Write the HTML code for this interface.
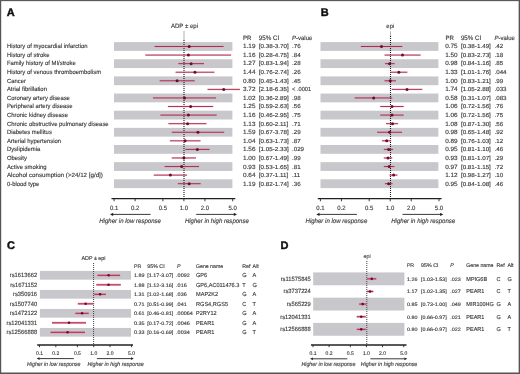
<!DOCTYPE html>
<html><head><meta charset="utf-8"><style>
html,body{margin:0;padding:0;background:#fff;}
body{width:520px;height:374px;overflow:hidden;position:relative;}
svg{position:absolute;left:0;top:0;font-family:"Liberation Sans",sans-serif;text-rendering:geometricPrecision;will-change:transform;filter:blur(0.35px);}
text{stroke:#444;stroke-width:0.13px;}
</style></head><body>
<svg width="520" height="374" viewBox="0 0 520 374">
<rect width="520" height="374" fill="#fff"/>
<text x="6.70" y="16.00" font-size="11" text-anchor="start" fill="#111" font-weight="bold" style="stroke:#111;stroke-width:0.45px">A</text>
<text transform="translate(184.50 27.50) scale(0.9615 1)" x="0" y="0" font-size="6.292" text-anchor="middle" fill="#333" font-weight="normal">ADP ± epi</text>
<rect x="114.00" y="42.10" width="118.40" height="8.80" fill="#c8c7cc"/>
<rect x="114.00" y="59.25" width="118.40" height="8.80" fill="#c8c7cc"/>
<rect x="114.00" y="76.40" width="118.40" height="8.80" fill="#c8c7cc"/>
<rect x="114.00" y="93.55" width="118.40" height="8.80" fill="#c8c7cc"/>
<rect x="114.00" y="110.70" width="118.40" height="8.80" fill="#c8c7cc"/>
<rect x="114.00" y="127.85" width="118.40" height="8.80" fill="#c8c7cc"/>
<rect x="114.00" y="145.00" width="118.40" height="8.80" fill="#c8c7cc"/>
<rect x="114.00" y="162.15" width="118.40" height="8.80" fill="#c8c7cc"/>
<rect x="114.00" y="179.30" width="118.40" height="8.80" fill="#c8c7cc"/>
<line x1="184.00" y1="31.00" x2="184.00" y2="40.00" stroke="#b4b4b4" stroke-width="1.1"/>
<line x1="184.00" y1="40.00" x2="184.00" y2="198.65" stroke="#1a1a1a" stroke-width="1.1" stroke-dasharray="1 1"/>
<line x1="154.57" y1="46.50" x2="223.56" y2="46.50" stroke="#e9879f" stroke-width="2.0" opacity="0.3"/>
<line x1="154.57" y1="46.50" x2="223.56" y2="46.50" stroke="#a51f43" stroke-width="0.9"/>
<circle cx="189.17" cy="46.50" r="1.5" fill="#6e0b2b"/>
<line x1="145.31" y1="55.08" x2="231.13" y2="55.08" stroke="#e9879f" stroke-width="2.0" opacity="0.3"/>
<line x1="145.31" y1="55.08" x2="231.13" y2="55.08" stroke="#a51f43" stroke-width="0.9"/>
<circle cx="188.40" cy="55.08" r="1.5" fill="#6e0b2b"/>
<line x1="178.25" y1="63.65" x2="203.99" y2="63.65" stroke="#e9879f" stroke-width="2.0" opacity="0.3"/>
<line x1="178.25" y1="63.65" x2="203.99" y2="63.65" stroke="#a51f43" stroke-width="0.9"/>
<circle cx="191.15" cy="63.65" r="1.5" fill="#6e0b2b"/>
<line x1="175.58" y1="72.22" x2="214.45" y2="72.22" stroke="#e9879f" stroke-width="2.0" opacity="0.3"/>
<line x1="175.58" y1="72.22" x2="214.45" y2="72.22" stroke="#a51f43" stroke-width="0.9"/>
<circle cx="194.95" cy="72.22" r="1.5" fill="#6e0b2b"/>
<line x1="159.69" y1="80.80" x2="194.74" y2="80.80" stroke="#e9879f" stroke-width="2.0" opacity="0.3"/>
<line x1="159.69" y1="80.80" x2="194.74" y2="80.80" stroke="#a51f43" stroke-width="0.9"/>
<circle cx="177.14" cy="80.80" r="1.5" fill="#6e0b2b"/>
<line x1="207.52" y1="89.38" x2="239.93" y2="89.38" stroke="#e9879f" stroke-width="2.0" opacity="0.3"/>
<line x1="207.52" y1="89.38" x2="239.93" y2="89.38" stroke="#a51f43" stroke-width="0.9"/>
<circle cx="223.72" cy="89.38" r="1.5" fill="#6e0b2b"/>
<line x1="152.93" y1="97.95" x2="216.07" y2="97.95" stroke="#e9879f" stroke-width="2.0" opacity="0.3"/>
<line x1="152.93" y1="97.95" x2="216.07" y2="97.95" stroke="#a51f43" stroke-width="0.9"/>
<circle cx="184.50" cy="97.95" r="1.5" fill="#6e0b2b"/>
<line x1="167.91" y1="106.52" x2="213.21" y2="106.52" stroke="#e9879f" stroke-width="2.0" opacity="0.3"/>
<line x1="167.91" y1="106.52" x2="213.21" y2="106.52" stroke="#a51f43" stroke-width="0.9"/>
<circle cx="190.66" cy="106.52" r="1.5" fill="#6e0b2b"/>
<line x1="160.36" y1="115.10" x2="216.69" y2="115.10" stroke="#e9879f" stroke-width="2.0" opacity="0.3"/>
<line x1="160.36" y1="115.10" x2="216.69" y2="115.10" stroke="#a51f43" stroke-width="0.9"/>
<circle cx="188.40" cy="115.10" r="1.5" fill="#6e0b2b"/>
<line x1="168.41" y1="123.67" x2="206.53" y2="123.67" stroke="#e9879f" stroke-width="2.0" opacity="0.3"/>
<line x1="168.41" y1="123.67" x2="206.53" y2="123.67" stroke="#a51f43" stroke-width="0.9"/>
<circle cx="187.60" cy="123.67" r="1.5" fill="#6e0b2b"/>
<line x1="171.76" y1="132.25" x2="224.21" y2="132.25" stroke="#e9879f" stroke-width="2.0" opacity="0.3"/>
<line x1="171.76" y1="132.25" x2="224.21" y2="132.25" stroke="#a51f43" stroke-width="0.9"/>
<circle cx="197.96" cy="132.25" r="1.5" fill="#6e0b2b"/>
<line x1="169.89" y1="140.82" x2="200.52" y2="140.82" stroke="#e9879f" stroke-width="2.0" opacity="0.3"/>
<line x1="169.89" y1="140.82" x2="200.52" y2="140.82" stroke="#a51f43" stroke-width="0.9"/>
<circle cx="185.09" cy="140.82" r="1.5" fill="#6e0b2b"/>
<line x1="185.38" y1="149.40" x2="209.54" y2="149.40" stroke="#e9879f" stroke-width="2.0" opacity="0.3"/>
<line x1="185.38" y1="149.40" x2="209.54" y2="149.40" stroke="#a51f43" stroke-width="0.9"/>
<circle cx="197.38" cy="149.40" r="1.5" fill="#6e0b2b"/>
<line x1="171.76" y1="157.97" x2="195.99" y2="157.97" stroke="#e9879f" stroke-width="2.0" opacity="0.3"/>
<line x1="171.76" y1="157.97" x2="195.99" y2="157.97" stroke="#a51f43" stroke-width="0.9"/>
<circle cx="183.90" cy="157.97" r="1.5" fill="#6e0b2b"/>
<line x1="164.65" y1="166.55" x2="199.08" y2="166.55" stroke="#e9879f" stroke-width="2.0" opacity="0.3"/>
<line x1="164.65" y1="166.55" x2="199.08" y2="166.55" stroke="#a51f43" stroke-width="0.9"/>
<circle cx="181.70" cy="166.55" r="1.5" fill="#6e0b2b"/>
<line x1="153.76" y1="175.12" x2="187.06" y2="175.12" stroke="#e9879f" stroke-width="2.0" opacity="0.3"/>
<line x1="153.76" y1="175.12" x2="187.06" y2="175.12" stroke="#a51f43" stroke-width="0.9"/>
<circle cx="170.37" cy="175.12" r="1.5" fill="#6e0b2b"/>
<line x1="177.88" y1="183.70" x2="200.69" y2="183.70" stroke="#e9879f" stroke-width="2.0" opacity="0.3"/>
<line x1="177.88" y1="183.70" x2="200.69" y2="183.70" stroke="#a51f43" stroke-width="0.9"/>
<circle cx="189.17" cy="183.70" r="1.5" fill="#6e0b2b"/>
<line x1="111.50" y1="198.65" x2="235.30" y2="198.65" stroke="#222" stroke-width="1.3"/>
<line x1="114.10" y1="198.65" x2="114.10" y2="201.25" stroke="#222" stroke-width="0.9"/>
<text transform="translate(114.10 209.70) scale(0.9615 1)" x="0" y="0" font-size="6.240" text-anchor="middle" fill="#333" font-weight="normal">0.1</text>
<line x1="135.11" y1="198.65" x2="135.11" y2="201.25" stroke="#222" stroke-width="0.9"/>
<text transform="translate(135.11 209.70) scale(0.9615 1)" x="0" y="0" font-size="6.240" text-anchor="middle" fill="#333" font-weight="normal">0.2</text>
<line x1="162.89" y1="198.65" x2="162.89" y2="201.25" stroke="#222" stroke-width="0.9"/>
<text transform="translate(162.89 209.70) scale(0.9615 1)" x="0" y="0" font-size="6.240" text-anchor="middle" fill="#333" font-weight="normal">0.5</text>
<line x1="183.90" y1="198.65" x2="183.90" y2="201.25" stroke="#222" stroke-width="0.9"/>
<text transform="translate(183.90 209.70) scale(0.9615 1)" x="0" y="0" font-size="6.240" text-anchor="middle" fill="#333" font-weight="normal">1.0</text>
<line x1="204.91" y1="198.65" x2="204.91" y2="201.25" stroke="#222" stroke-width="0.9"/>
<text transform="translate(204.91 209.70) scale(0.9615 1)" x="0" y="0" font-size="6.240" text-anchor="middle" fill="#333" font-weight="normal">2.0</text>
<line x1="232.69" y1="198.65" x2="232.69" y2="201.25" stroke="#222" stroke-width="0.9"/>
<text transform="translate(232.69 209.70) scale(0.9615 1)" x="0" y="0" font-size="6.240" text-anchor="middle" fill="#333" font-weight="normal">5.0</text>
<line x1="112.70" y1="214.40" x2="150.60" y2="214.40" stroke="#222" stroke-width="0.9"/>
<path d="M110.00 214.40 L113.20 212.80 L113.20 216.00Z" fill="#222"/>
<line x1="196.20" y1="214.40" x2="234.30" y2="214.40" stroke="#222" stroke-width="0.9"/>
<path d="M237.00 214.40 L233.80 212.80 L233.80 216.00Z" fill="#222"/>
<text transform="translate(99.20 222.50) scale(0.9615 1)" x="0" y="0" font-size="6.552" text-anchor="start" fill="#333" font-weight="normal" font-style="italic" textLength="64.27" lengthAdjust="spacingAndGlyphs">Higher in low response</text>
<text transform="translate(184.90 222.50) scale(0.9615 1)" x="0" y="0" font-size="6.552" text-anchor="start" fill="#333" font-weight="normal" font-style="italic" textLength="66.56" lengthAdjust="spacingAndGlyphs">Higher in high response</text>
<text transform="translate(6.90 48.10) scale(0.9615 1)" x="0" y="0" font-size="6.157" text-anchor="start" fill="#333" font-weight="normal">History of myocardial infarction</text>
<text transform="translate(6.90 56.70) scale(0.9615 1)" x="0" y="0" font-size="6.157" text-anchor="start" fill="#333" font-weight="normal">History of stroke</text>
<text transform="translate(6.90 65.30) scale(0.9615 1)" x="0" y="0" font-size="6.157" text-anchor="start" fill="#333" font-weight="normal">Family history of MI/stroke</text>
<text transform="translate(6.90 73.90) scale(0.9615 1)" x="0" y="0" font-size="6.157" text-anchor="start" fill="#333" font-weight="normal">History of venous thromboembolism</text>
<text transform="translate(6.90 82.50) scale(0.9615 1)" x="0" y="0" font-size="6.157" text-anchor="start" fill="#333" font-weight="normal">Cancer</text>
<text transform="translate(6.90 91.10) scale(0.9615 1)" x="0" y="0" font-size="6.157" text-anchor="start" fill="#333" font-weight="normal">Atrial fibrillation</text>
<text transform="translate(6.90 99.70) scale(0.9615 1)" x="0" y="0" font-size="6.157" text-anchor="start" fill="#333" font-weight="normal">Coronary artery disease</text>
<text transform="translate(6.90 108.30) scale(0.9615 1)" x="0" y="0" font-size="6.157" text-anchor="start" fill="#333" font-weight="normal">Peripheral artery disease</text>
<text transform="translate(6.90 116.90) scale(0.9615 1)" x="0" y="0" font-size="6.157" text-anchor="start" fill="#333" font-weight="normal">Chronic kidney disease</text>
<text transform="translate(6.90 125.50) scale(0.9615 1)" x="0" y="0" font-size="6.157" text-anchor="start" fill="#333" font-weight="normal">Chronic obstructive pulmonary disease</text>
<text transform="translate(6.90 134.10) scale(0.9615 1)" x="0" y="0" font-size="6.157" text-anchor="start" fill="#333" font-weight="normal">Diabetes mellitus</text>
<text transform="translate(6.90 142.70) scale(0.9615 1)" x="0" y="0" font-size="6.157" text-anchor="start" fill="#333" font-weight="normal">Arterial hypertension</text>
<text transform="translate(6.90 151.30) scale(0.9615 1)" x="0" y="0" font-size="6.157" text-anchor="start" fill="#333" font-weight="normal">Dyslipidemia</text>
<text transform="translate(6.90 159.90) scale(0.9615 1)" x="0" y="0" font-size="6.157" text-anchor="start" fill="#333" font-weight="normal">Obesity</text>
<text transform="translate(6.90 168.50) scale(0.9615 1)" x="0" y="0" font-size="6.157" text-anchor="start" fill="#333" font-weight="normal">Active smoking</text>
<text transform="translate(6.90 177.10) scale(0.9615 1)" x="0" y="0" font-size="6.157" text-anchor="start" fill="#333" font-weight="normal" textLength="99.84" lengthAdjust="spacingAndGlyphs">Alcohol consumption (&gt;24/12 [g/d])</text>
<text transform="translate(6.90 185.70) scale(0.9615 1)" x="0" y="0" font-size="6.157" text-anchor="start" fill="#333" font-weight="normal">0-blood type</text>
<text transform="translate(243.00 39.60) scale(0.9615 1)" x="0" y="0" font-size="6.344" text-anchor="start" fill="#333" font-weight="normal">PR</text>
<text transform="translate(258.80 39.60) scale(0.9615 1)" x="0" y="0" font-size="6.448" text-anchor="start" fill="#333" font-weight="normal">95% CI</text>
<text transform="translate(292.0 39.6) scale(0.9615 1)" x="0" y="0" font-size="6.240" fill="#333"><tspan font-style="italic">P</tspan>-value</text>
<text transform="translate(243.00 48.10) scale(1.0526 1)" x="0" y="0" font-size="6.080" text-anchor="start" fill="#333" font-weight="normal">1.19</text>
<text transform="translate(258.80 48.10) scale(1.0870 1)" x="0" y="0" font-size="5.778" text-anchor="start" fill="#333" font-weight="normal">[0.38-3.70]</text>
<text transform="translate(292.00 48.10) scale(1.0526 1)" x="0" y="0" font-size="5.890" text-anchor="start" fill="#333" font-weight="normal">.76</text>
<text transform="translate(243.00 56.70) scale(1.0526 1)" x="0" y="0" font-size="6.080" text-anchor="start" fill="#333" font-weight="normal">1.16</text>
<text transform="translate(258.80 56.70) scale(1.0870 1)" x="0" y="0" font-size="5.778" text-anchor="start" fill="#333" font-weight="normal">[0.28-4.75]</text>
<text transform="translate(292.00 56.70) scale(1.0526 1)" x="0" y="0" font-size="5.890" text-anchor="start" fill="#333" font-weight="normal">.84</text>
<text transform="translate(243.00 65.30) scale(1.0526 1)" x="0" y="0" font-size="6.080" text-anchor="start" fill="#333" font-weight="normal">1.27</text>
<text transform="translate(258.80 65.30) scale(1.0870 1)" x="0" y="0" font-size="5.778" text-anchor="start" fill="#333" font-weight="normal">[0.83-1.94]</text>
<text transform="translate(292.00 65.30) scale(1.0526 1)" x="0" y="0" font-size="5.890" text-anchor="start" fill="#333" font-weight="normal">.28</text>
<text transform="translate(243.00 73.90) scale(1.0526 1)" x="0" y="0" font-size="6.080" text-anchor="start" fill="#333" font-weight="normal">1.44</text>
<text transform="translate(258.80 73.90) scale(1.0870 1)" x="0" y="0" font-size="5.778" text-anchor="start" fill="#333" font-weight="normal">[0.76-2.74]</text>
<text transform="translate(292.00 73.90) scale(1.0526 1)" x="0" y="0" font-size="5.890" text-anchor="start" fill="#333" font-weight="normal">.26</text>
<text transform="translate(243.00 82.50) scale(1.0526 1)" x="0" y="0" font-size="6.080" text-anchor="start" fill="#333" font-weight="normal">0.80</text>
<text transform="translate(258.80 82.50) scale(1.0870 1)" x="0" y="0" font-size="5.778" text-anchor="start" fill="#333" font-weight="normal">[0.45-1.43]</text>
<text transform="translate(292.00 82.50) scale(1.0526 1)" x="0" y="0" font-size="5.890" text-anchor="start" fill="#333" font-weight="normal">.45</text>
<text transform="translate(243.00 91.10) scale(1.0526 1)" x="0" y="0" font-size="6.080" text-anchor="start" fill="#333" font-weight="normal">3.72</text>
<text transform="translate(258.80 91.10) scale(1.0870 1)" x="0" y="0" font-size="5.778" text-anchor="start" fill="#333" font-weight="normal">[2.18-6.35]</text>
<text transform="translate(292.00 91.10) scale(1.0526 1)" x="0" y="0" font-size="5.890" text-anchor="start" fill="#333" font-weight="normal" textLength="18.24" lengthAdjust="spacingAndGlyphs">&lt; .0001</text>
<text transform="translate(243.00 99.70) scale(1.0526 1)" x="0" y="0" font-size="6.080" text-anchor="start" fill="#333" font-weight="normal">1.02</text>
<text transform="translate(258.80 99.70) scale(1.0870 1)" x="0" y="0" font-size="5.778" text-anchor="start" fill="#333" font-weight="normal">[0.36-2.89]</text>
<text transform="translate(292.00 99.70) scale(1.0526 1)" x="0" y="0" font-size="5.890" text-anchor="start" fill="#333" font-weight="normal">.98</text>
<text transform="translate(243.00 108.30) scale(1.0526 1)" x="0" y="0" font-size="6.080" text-anchor="start" fill="#333" font-weight="normal">1.25</text>
<text transform="translate(258.80 108.30) scale(1.0870 1)" x="0" y="0" font-size="5.778" text-anchor="start" fill="#333" font-weight="normal">[0.59-2.63]</text>
<text transform="translate(292.00 108.30) scale(1.0526 1)" x="0" y="0" font-size="5.890" text-anchor="start" fill="#333" font-weight="normal">.56</text>
<text transform="translate(243.00 116.90) scale(1.0526 1)" x="0" y="0" font-size="6.080" text-anchor="start" fill="#333" font-weight="normal">1.16</text>
<text transform="translate(258.80 116.90) scale(1.0870 1)" x="0" y="0" font-size="5.778" text-anchor="start" fill="#333" font-weight="normal">[0.46-2.95]</text>
<text transform="translate(292.00 116.90) scale(1.0526 1)" x="0" y="0" font-size="5.890" text-anchor="start" fill="#333" font-weight="normal">.75</text>
<text transform="translate(243.00 125.50) scale(1.0526 1)" x="0" y="0" font-size="6.080" text-anchor="start" fill="#333" font-weight="normal">1.13</text>
<text transform="translate(258.80 125.50) scale(1.0870 1)" x="0" y="0" font-size="5.778" text-anchor="start" fill="#333" font-weight="normal">[0.60-2.11]</text>
<text transform="translate(292.00 125.50) scale(1.0526 1)" x="0" y="0" font-size="5.890" text-anchor="start" fill="#333" font-weight="normal">.71</text>
<text transform="translate(243.00 134.10) scale(1.0526 1)" x="0" y="0" font-size="6.080" text-anchor="start" fill="#333" font-weight="normal">1.59</text>
<text transform="translate(258.80 134.10) scale(1.0870 1)" x="0" y="0" font-size="5.778" text-anchor="start" fill="#333" font-weight="normal">[0.67-3.78]</text>
<text transform="translate(292.00 134.10) scale(1.0526 1)" x="0" y="0" font-size="5.890" text-anchor="start" fill="#333" font-weight="normal">.29</text>
<text transform="translate(243.00 142.70) scale(1.0526 1)" x="0" y="0" font-size="6.080" text-anchor="start" fill="#333" font-weight="normal">1.04</text>
<text transform="translate(258.80 142.70) scale(1.0870 1)" x="0" y="0" font-size="5.778" text-anchor="start" fill="#333" font-weight="normal">[0.63-1.73]</text>
<text transform="translate(292.00 142.70) scale(1.0526 1)" x="0" y="0" font-size="5.890" text-anchor="start" fill="#333" font-weight="normal">.87</text>
<text transform="translate(243.00 151.30) scale(1.0526 1)" x="0" y="0" font-size="6.080" text-anchor="start" fill="#333" font-weight="normal">1.56</text>
<text transform="translate(258.80 151.30) scale(1.0870 1)" x="0" y="0" font-size="5.778" text-anchor="start" fill="#333" font-weight="normal">[1.05-2.33]</text>
<text transform="translate(292.00 151.30) scale(1.0526 1)" x="0" y="0" font-size="5.890" text-anchor="start" fill="#333" font-weight="normal">.029</text>
<text transform="translate(243.00 159.90) scale(1.0526 1)" x="0" y="0" font-size="6.080" text-anchor="start" fill="#333" font-weight="normal">1.00</text>
<text transform="translate(258.80 159.90) scale(1.0870 1)" x="0" y="0" font-size="5.778" text-anchor="start" fill="#333" font-weight="normal">[0.67-1.49]</text>
<text transform="translate(292.00 159.90) scale(1.0526 1)" x="0" y="0" font-size="5.890" text-anchor="start" fill="#333" font-weight="normal">.99</text>
<text transform="translate(243.00 168.50) scale(1.0526 1)" x="0" y="0" font-size="6.080" text-anchor="start" fill="#333" font-weight="normal">0.93</text>
<text transform="translate(258.80 168.50) scale(1.0870 1)" x="0" y="0" font-size="5.778" text-anchor="start" fill="#333" font-weight="normal">[0.53-1.65]</text>
<text transform="translate(292.00 168.50) scale(1.0526 1)" x="0" y="0" font-size="5.890" text-anchor="start" fill="#333" font-weight="normal">.81</text>
<text transform="translate(243.00 177.10) scale(1.0526 1)" x="0" y="0" font-size="6.080" text-anchor="start" fill="#333" font-weight="normal">0.64</text>
<text transform="translate(258.80 177.10) scale(1.0870 1)" x="0" y="0" font-size="5.778" text-anchor="start" fill="#333" font-weight="normal">[0.37-1.11]</text>
<text transform="translate(292.00 177.10) scale(1.0526 1)" x="0" y="0" font-size="5.890" text-anchor="start" fill="#333" font-weight="normal">.11</text>
<text transform="translate(243.00 185.70) scale(1.0526 1)" x="0" y="0" font-size="6.080" text-anchor="start" fill="#333" font-weight="normal">1.19</text>
<text transform="translate(258.80 185.70) scale(1.0870 1)" x="0" y="0" font-size="5.778" text-anchor="start" fill="#333" font-weight="normal">[0.82-1.74]</text>
<text transform="translate(292.00 185.70) scale(1.0526 1)" x="0" y="0" font-size="5.890" text-anchor="start" fill="#333" font-weight="normal">.36</text>
<text x="320.70" y="16.00" font-size="11" text-anchor="start" fill="#111" font-weight="bold" style="stroke:#111;stroke-width:0.45px">B</text>
<text x="390.30" y="27.60" font-size="5.9" text-anchor="middle" fill="#333" font-weight="normal">epi</text>
<rect x="320.50" y="42.10" width="117.90" height="8.80" fill="#c8c7cc"/>
<rect x="320.50" y="59.25" width="117.90" height="8.80" fill="#c8c7cc"/>
<rect x="320.50" y="76.40" width="117.90" height="8.80" fill="#c8c7cc"/>
<rect x="320.50" y="93.55" width="117.90" height="8.80" fill="#c8c7cc"/>
<rect x="320.50" y="110.70" width="117.90" height="8.80" fill="#c8c7cc"/>
<rect x="320.50" y="127.85" width="117.90" height="8.80" fill="#c8c7cc"/>
<rect x="320.50" y="145.00" width="117.90" height="8.80" fill="#c8c7cc"/>
<rect x="320.50" y="162.15" width="117.90" height="8.80" fill="#c8c7cc"/>
<rect x="320.50" y="179.30" width="117.90" height="8.80" fill="#c8c7cc"/>
<line x1="390.50" y1="31.30" x2="390.50" y2="36.00" stroke="#b4b4b4" stroke-width="1.1"/>
<line x1="390.50" y1="36.00" x2="390.50" y2="198.65" stroke="#1a1a1a" stroke-width="1.1" stroke-dasharray="1 1"/>
<line x1="360.87" y1="46.50" x2="402.29" y2="46.50" stroke="#e9879f" stroke-width="2.0" opacity="0.3"/>
<line x1="360.87" y1="46.50" x2="402.29" y2="46.50" stroke="#a51f43" stroke-width="0.9"/>
<circle cx="381.48" cy="46.50" r="1.5" fill="#6e0b2b"/>
<line x1="384.55" y1="55.08" x2="420.64" y2="55.08" stroke="#e9879f" stroke-width="2.0" opacity="0.3"/>
<line x1="384.55" y1="55.08" x2="420.64" y2="55.08" stroke="#a51f43" stroke-width="0.9"/>
<circle cx="402.49" cy="55.08" r="1.5" fill="#6e0b2b"/>
<line x1="384.91" y1="63.65" x2="394.70" y2="63.65" stroke="#e9879f" stroke-width="2.0" opacity="0.3"/>
<line x1="384.91" y1="63.65" x2="394.70" y2="63.65" stroke="#a51f43" stroke-width="0.9"/>
<circle cx="389.59" cy="63.65" r="1.5" fill="#6e0b2b"/>
<line x1="390.50" y1="72.22" x2="407.34" y2="72.22" stroke="#e9879f" stroke-width="2.0" opacity="0.3"/>
<line x1="390.50" y1="72.22" x2="407.34" y2="72.22" stroke="#a51f43" stroke-width="0.9"/>
<circle cx="398.84" cy="72.22" r="1.5" fill="#6e0b2b"/>
<line x1="384.55" y1="80.80" x2="395.98" y2="80.80" stroke="#e9879f" stroke-width="2.0" opacity="0.3"/>
<line x1="384.55" y1="80.80" x2="395.98" y2="80.80" stroke="#a51f43" stroke-width="0.9"/>
<circle cx="390.20" cy="80.80" r="1.5" fill="#6e0b2b"/>
<line x1="391.68" y1="89.38" x2="422.27" y2="89.38" stroke="#e9879f" stroke-width="2.0" opacity="0.3"/>
<line x1="391.68" y1="89.38" x2="422.27" y2="89.38" stroke="#a51f43" stroke-width="0.9"/>
<circle cx="406.99" cy="89.38" r="1.5" fill="#6e0b2b"/>
<line x1="354.70" y1="97.95" x2="392.25" y2="97.95" stroke="#e9879f" stroke-width="2.0" opacity="0.3"/>
<line x1="354.70" y1="97.95" x2="392.25" y2="97.95" stroke="#a51f43" stroke-width="0.9"/>
<circle cx="373.69" cy="97.95" r="1.5" fill="#6e0b2b"/>
<line x1="380.24" y1="106.52" x2="403.68" y2="106.52" stroke="#e9879f" stroke-width="2.0" opacity="0.3"/>
<line x1="380.24" y1="106.52" x2="403.68" y2="106.52" stroke="#a51f43" stroke-width="0.9"/>
<circle cx="391.97" cy="106.52" r="1.5" fill="#6e0b2b"/>
<line x1="380.24" y1="115.10" x2="403.68" y2="115.10" stroke="#e9879f" stroke-width="2.0" opacity="0.3"/>
<line x1="380.24" y1="115.10" x2="403.68" y2="115.10" stroke="#a51f43" stroke-width="0.9"/>
<circle cx="391.97" cy="115.10" r="1.5" fill="#6e0b2b"/>
<line x1="385.98" y1="123.67" x2="398.15" y2="123.67" stroke="#e9879f" stroke-width="2.0" opacity="0.3"/>
<line x1="385.98" y1="123.67" x2="398.15" y2="123.67" stroke="#a51f43" stroke-width="0.9"/>
<circle cx="392.53" cy="123.67" r="1.5" fill="#6e0b2b"/>
<line x1="377.14" y1="132.25" x2="402.08" y2="132.25" stroke="#e9879f" stroke-width="2.0" opacity="0.3"/>
<line x1="377.14" y1="132.25" x2="402.08" y2="132.25" stroke="#a51f43" stroke-width="0.9"/>
<circle cx="389.59" cy="132.25" r="1.5" fill="#6e0b2b"/>
<line x1="381.88" y1="140.82" x2="391.10" y2="140.82" stroke="#e9879f" stroke-width="2.0" opacity="0.3"/>
<line x1="381.88" y1="140.82" x2="391.10" y2="140.82" stroke="#a51f43" stroke-width="0.9"/>
<circle cx="386.67" cy="140.82" r="1.5" fill="#6e0b2b"/>
<line x1="383.81" y1="149.40" x2="393.09" y2="149.40" stroke="#e9879f" stroke-width="2.0" opacity="0.3"/>
<line x1="383.81" y1="149.40" x2="393.09" y2="149.40" stroke="#a51f43" stroke-width="0.9"/>
<circle cx="388.65" cy="149.40" r="1.5" fill="#6e0b2b"/>
<line x1="383.81" y1="157.97" x2="392.25" y2="157.97" stroke="#e9879f" stroke-width="2.0" opacity="0.3"/>
<line x1="383.81" y1="157.97" x2="392.25" y2="157.97" stroke="#a51f43" stroke-width="0.9"/>
<circle cx="388.00" cy="157.97" r="1.5" fill="#6e0b2b"/>
<line x1="383.81" y1="166.55" x2="394.44" y2="166.55" stroke="#e9879f" stroke-width="2.0" opacity="0.3"/>
<line x1="383.81" y1="166.55" x2="394.44" y2="166.55" stroke="#a51f43" stroke-width="0.9"/>
<circle cx="389.28" cy="166.55" r="1.5" fill="#6e0b2b"/>
<line x1="389.59" y1="175.12" x2="397.45" y2="175.12" stroke="#e9879f" stroke-width="2.0" opacity="0.3"/>
<line x1="389.59" y1="175.12" x2="397.45" y2="175.12" stroke="#a51f43" stroke-width="0.9"/>
<circle cx="393.64" cy="175.12" r="1.5" fill="#6e0b2b"/>
<line x1="384.91" y1="183.70" x2="392.53" y2="183.70" stroke="#e9879f" stroke-width="2.0" opacity="0.3"/>
<line x1="384.91" y1="183.70" x2="392.53" y2="183.70" stroke="#a51f43" stroke-width="0.9"/>
<circle cx="388.65" cy="183.70" r="1.5" fill="#6e0b2b"/>
<line x1="317.80" y1="198.65" x2="441.60" y2="198.65" stroke="#222" stroke-width="1.3"/>
<line x1="320.40" y1="198.65" x2="320.40" y2="201.25" stroke="#222" stroke-width="0.9"/>
<text transform="translate(320.40 209.70) scale(0.9615 1)" x="0" y="0" font-size="6.240" text-anchor="middle" fill="#333" font-weight="normal">0.1</text>
<line x1="341.41" y1="198.65" x2="341.41" y2="201.25" stroke="#222" stroke-width="0.9"/>
<text transform="translate(341.41 209.70) scale(0.9615 1)" x="0" y="0" font-size="6.240" text-anchor="middle" fill="#333" font-weight="normal">0.2</text>
<line x1="369.19" y1="198.65" x2="369.19" y2="201.25" stroke="#222" stroke-width="0.9"/>
<text transform="translate(369.19 209.70) scale(0.9615 1)" x="0" y="0" font-size="6.240" text-anchor="middle" fill="#333" font-weight="normal">0.5</text>
<line x1="390.20" y1="198.65" x2="390.20" y2="201.25" stroke="#222" stroke-width="0.9"/>
<text transform="translate(390.20 209.70) scale(0.9615 1)" x="0" y="0" font-size="6.240" text-anchor="middle" fill="#333" font-weight="normal">1.0</text>
<line x1="411.21" y1="198.65" x2="411.21" y2="201.25" stroke="#222" stroke-width="0.9"/>
<text transform="translate(411.21 209.70) scale(0.9615 1)" x="0" y="0" font-size="6.240" text-anchor="middle" fill="#333" font-weight="normal">2.0</text>
<line x1="438.99" y1="198.65" x2="438.99" y2="201.25" stroke="#222" stroke-width="0.9"/>
<text transform="translate(438.99 209.70) scale(0.9615 1)" x="0" y="0" font-size="6.240" text-anchor="middle" fill="#333" font-weight="normal">5.0</text>
<line x1="319.00" y1="214.40" x2="356.90" y2="214.40" stroke="#222" stroke-width="0.9"/>
<path d="M316.30 214.40 L319.50 212.80 L319.50 216.00Z" fill="#222"/>
<line x1="402.50" y1="214.40" x2="440.60" y2="214.40" stroke="#222" stroke-width="0.9"/>
<path d="M443.30 214.40 L440.10 212.80 L440.10 216.00Z" fill="#222"/>
<text transform="translate(305.50 222.50) scale(0.9615 1)" x="0" y="0" font-size="6.552" text-anchor="start" fill="#333" font-weight="normal" font-style="italic" textLength="64.27" lengthAdjust="spacingAndGlyphs">Higher in low response</text>
<text transform="translate(391.20 222.50) scale(0.9615 1)" x="0" y="0" font-size="6.552" text-anchor="start" fill="#333" font-weight="normal" font-style="italic" textLength="66.56" lengthAdjust="spacingAndGlyphs">Higher in high response</text>
<text transform="translate(445.40 39.60) scale(0.9615 1)" x="0" y="0" font-size="6.344" text-anchor="start" fill="#333" font-weight="normal">PR</text>
<text transform="translate(460.90 39.60) scale(0.9615 1)" x="0" y="0" font-size="6.448" text-anchor="start" fill="#333" font-weight="normal">95% CI</text>
<text transform="translate(494.5 39.6) scale(0.9615 1)" x="0" y="0" font-size="6.240" fill="#333"><tspan font-style="italic">P</tspan>-value</text>
<text transform="translate(445.20 48.10) scale(1.0526 1)" x="0" y="0" font-size="6.080" text-anchor="start" fill="#333" font-weight="normal">0.75</text>
<text transform="translate(460.90 48.10) scale(1.0870 1)" x="0" y="0" font-size="5.778" text-anchor="start" fill="#333" font-weight="normal">[0.38-1.49]</text>
<text transform="translate(494.50 48.10) scale(1.0526 1)" x="0" y="0" font-size="5.890" text-anchor="start" fill="#333" font-weight="normal">.42</text>
<text transform="translate(445.20 56.70) scale(1.0526 1)" x="0" y="0" font-size="6.080" text-anchor="start" fill="#333" font-weight="normal">1.50</text>
<text transform="translate(460.90 56.70) scale(1.0870 1)" x="0" y="0" font-size="5.778" text-anchor="start" fill="#333" font-weight="normal">[0.83-2.73]</text>
<text transform="translate(494.50 56.70) scale(1.0526 1)" x="0" y="0" font-size="5.890" text-anchor="start" fill="#333" font-weight="normal">.18</text>
<text transform="translate(445.20 65.30) scale(1.0526 1)" x="0" y="0" font-size="6.080" text-anchor="start" fill="#333" font-weight="normal">0.98</text>
<text transform="translate(460.90 65.30) scale(1.0870 1)" x="0" y="0" font-size="5.778" text-anchor="start" fill="#333" font-weight="normal">[0.84-1.16]</text>
<text transform="translate(494.50 65.30) scale(1.0526 1)" x="0" y="0" font-size="5.890" text-anchor="start" fill="#333" font-weight="normal">.85</text>
<text transform="translate(445.20 73.90) scale(1.0526 1)" x="0" y="0" font-size="6.080" text-anchor="start" fill="#333" font-weight="normal">1.33</text>
<text transform="translate(460.90 73.90) scale(1.0870 1)" x="0" y="0" font-size="5.778" text-anchor="start" fill="#333" font-weight="normal">[1.01-1.76]</text>
<text transform="translate(494.50 73.90) scale(1.0526 1)" x="0" y="0" font-size="5.890" text-anchor="start" fill="#333" font-weight="normal">.044</text>
<text transform="translate(445.20 82.50) scale(1.0526 1)" x="0" y="0" font-size="6.080" text-anchor="start" fill="#333" font-weight="normal">1.00</text>
<text transform="translate(460.90 82.50) scale(1.0870 1)" x="0" y="0" font-size="5.778" text-anchor="start" fill="#333" font-weight="normal">[0.83-1.21]</text>
<text transform="translate(494.50 82.50) scale(1.0526 1)" x="0" y="0" font-size="5.890" text-anchor="start" fill="#333" font-weight="normal">.99</text>
<text transform="translate(445.20 91.10) scale(1.0526 1)" x="0" y="0" font-size="6.080" text-anchor="start" fill="#333" font-weight="normal">1.74</text>
<text transform="translate(460.90 91.10) scale(1.0870 1)" x="0" y="0" font-size="5.778" text-anchor="start" fill="#333" font-weight="normal">[1.05-2.88]</text>
<text transform="translate(494.50 91.10) scale(1.0526 1)" x="0" y="0" font-size="5.890" text-anchor="start" fill="#333" font-weight="normal">.033</text>
<text transform="translate(445.20 99.70) scale(1.0526 1)" x="0" y="0" font-size="6.080" text-anchor="start" fill="#333" font-weight="normal">0.58</text>
<text transform="translate(460.90 99.70) scale(1.0870 1)" x="0" y="0" font-size="5.778" text-anchor="start" fill="#333" font-weight="normal">[0.31-1.07]</text>
<text transform="translate(494.50 99.70) scale(1.0526 1)" x="0" y="0" font-size="5.890" text-anchor="start" fill="#333" font-weight="normal">.083</text>
<text transform="translate(445.20 108.30) scale(1.0526 1)" x="0" y="0" font-size="6.080" text-anchor="start" fill="#333" font-weight="normal">1.06</text>
<text transform="translate(460.90 108.30) scale(1.0870 1)" x="0" y="0" font-size="5.778" text-anchor="start" fill="#333" font-weight="normal">[0.72-1.56]</text>
<text transform="translate(494.50 108.30) scale(1.0526 1)" x="0" y="0" font-size="5.890" text-anchor="start" fill="#333" font-weight="normal">.76</text>
<text transform="translate(445.20 116.90) scale(1.0526 1)" x="0" y="0" font-size="6.080" text-anchor="start" fill="#333" font-weight="normal">1.06</text>
<text transform="translate(460.90 116.90) scale(1.0870 1)" x="0" y="0" font-size="5.778" text-anchor="start" fill="#333" font-weight="normal">[0.72-1.56]</text>
<text transform="translate(494.50 116.90) scale(1.0526 1)" x="0" y="0" font-size="5.890" text-anchor="start" fill="#333" font-weight="normal">.75</text>
<text transform="translate(445.20 125.50) scale(1.0526 1)" x="0" y="0" font-size="6.080" text-anchor="start" fill="#333" font-weight="normal">1.08</text>
<text transform="translate(460.90 125.50) scale(1.0870 1)" x="0" y="0" font-size="5.778" text-anchor="start" fill="#333" font-weight="normal">[0.87-1.30]</text>
<text transform="translate(494.50 125.50) scale(1.0526 1)" x="0" y="0" font-size="5.890" text-anchor="start" fill="#333" font-weight="normal">.56</text>
<text transform="translate(445.20 134.10) scale(1.0526 1)" x="0" y="0" font-size="6.080" text-anchor="start" fill="#333" font-weight="normal">0.98</text>
<text transform="translate(460.90 134.10) scale(1.0870 1)" x="0" y="0" font-size="5.778" text-anchor="start" fill="#333" font-weight="normal">[0.65-1.48]</text>
<text transform="translate(494.50 134.10) scale(1.0526 1)" x="0" y="0" font-size="5.890" text-anchor="start" fill="#333" font-weight="normal">.92</text>
<text transform="translate(445.20 142.70) scale(1.0526 1)" x="0" y="0" font-size="6.080" text-anchor="start" fill="#333" font-weight="normal">0.89</text>
<text transform="translate(460.90 142.70) scale(1.0870 1)" x="0" y="0" font-size="5.778" text-anchor="start" fill="#333" font-weight="normal">[0.76-1.03]</text>
<text transform="translate(494.50 142.70) scale(1.0526 1)" x="0" y="0" font-size="5.890" text-anchor="start" fill="#333" font-weight="normal">.12</text>
<text transform="translate(445.20 151.30) scale(1.0526 1)" x="0" y="0" font-size="6.080" text-anchor="start" fill="#333" font-weight="normal">0.95</text>
<text transform="translate(460.90 151.30) scale(1.0870 1)" x="0" y="0" font-size="5.778" text-anchor="start" fill="#333" font-weight="normal">[0.81-1.10]</text>
<text transform="translate(494.50 151.30) scale(1.0526 1)" x="0" y="0" font-size="5.890" text-anchor="start" fill="#333" font-weight="normal">.46</text>
<text transform="translate(445.20 159.90) scale(1.0526 1)" x="0" y="0" font-size="6.080" text-anchor="start" fill="#333" font-weight="normal">0.93</text>
<text transform="translate(460.90 159.90) scale(1.0870 1)" x="0" y="0" font-size="5.778" text-anchor="start" fill="#333" font-weight="normal">[0.81-1.07]</text>
<text transform="translate(494.50 159.90) scale(1.0526 1)" x="0" y="0" font-size="5.890" text-anchor="start" fill="#333" font-weight="normal">.29</text>
<text transform="translate(445.20 168.50) scale(1.0526 1)" x="0" y="0" font-size="6.080" text-anchor="start" fill="#333" font-weight="normal">0.97</text>
<text transform="translate(460.90 168.50) scale(1.0870 1)" x="0" y="0" font-size="5.778" text-anchor="start" fill="#333" font-weight="normal">[0.81-1.15]</text>
<text transform="translate(494.50 168.50) scale(1.0526 1)" x="0" y="0" font-size="5.890" text-anchor="start" fill="#333" font-weight="normal">.72</text>
<text transform="translate(445.20 177.10) scale(1.0526 1)" x="0" y="0" font-size="6.080" text-anchor="start" fill="#333" font-weight="normal">1.12</text>
<text transform="translate(460.90 177.10) scale(1.0870 1)" x="0" y="0" font-size="5.778" text-anchor="start" fill="#333" font-weight="normal">[0.98-1.27]</text>
<text transform="translate(494.50 177.10) scale(1.0526 1)" x="0" y="0" font-size="5.890" text-anchor="start" fill="#333" font-weight="normal">.10</text>
<text transform="translate(445.20 185.70) scale(1.0526 1)" x="0" y="0" font-size="6.080" text-anchor="start" fill="#333" font-weight="normal">0.95</text>
<text transform="translate(460.90 185.70) scale(1.0870 1)" x="0" y="0" font-size="5.778" text-anchor="start" fill="#333" font-weight="normal">[0.84-1.08]</text>
<text transform="translate(494.50 185.70) scale(1.0526 1)" x="0" y="0" font-size="5.890" text-anchor="start" fill="#333" font-weight="normal">.46</text>
<text x="6.90" y="248.70" font-size="11" text-anchor="start" fill="#111" font-weight="bold" style="stroke:#111;stroke-width:0.45px">C</text>
<text transform="translate(93.50 259.80) scale(0.9615 1)" x="0" y="0" font-size="5.585" text-anchor="middle" fill="#333" font-weight="normal">ADP ± epi</text>
<rect x="39.90" y="270.95" width="91.10" height="8.70" fill="#c8c7cc"/>
<rect x="39.90" y="289.95" width="91.10" height="8.70" fill="#c8c7cc"/>
<rect x="39.90" y="308.95" width="91.10" height="8.70" fill="#c8c7cc"/>
<rect x="39.90" y="327.95" width="91.10" height="8.70" fill="#c8c7cc"/>
<line x1="93.60" y1="263.00" x2="93.60" y2="345.00" stroke="#3a3a3a" stroke-width="0.95" stroke-dasharray="1 1"/>
<line x1="97.40" y1="275.30" x2="120.10" y2="275.30" stroke="#e9879f" stroke-width="2.2" opacity="0.75"/>
<line x1="97.40" y1="275.30" x2="120.10" y2="275.30" stroke="#a51f43" stroke-width="0.9"/>
<circle cx="108.68" cy="275.30" r="1.3" fill="#6e0b2b"/>
<line x1="96.37" y1="284.80" x2="120.78" y2="284.80" stroke="#e9879f" stroke-width="2.2" opacity="0.75"/>
<line x1="96.37" y1="284.80" x2="120.78" y2="284.80" stroke="#a51f43" stroke-width="0.9"/>
<circle cx="108.56" cy="284.80" r="1.3" fill="#6e0b2b"/>
<line x1="94.17" y1="294.30" x2="105.91" y2="294.30" stroke="#e9879f" stroke-width="2.2" opacity="0.75"/>
<line x1="94.17" y1="294.30" x2="105.91" y2="294.30" stroke="#a51f43" stroke-width="0.9"/>
<circle cx="100.06" cy="294.30" r="1.3" fill="#6e0b2b"/>
<line x1="77.85" y1="303.80" x2="93.46" y2="303.80" stroke="#e9879f" stroke-width="2.2" opacity="0.75"/>
<line x1="77.85" y1="303.80" x2="93.46" y2="303.80" stroke="#a51f43" stroke-width="0.9"/>
<circle cx="85.64" cy="303.80" r="1.3" fill="#6e0b2b"/>
<line x1="75.42" y1="313.30" x2="88.74" y2="313.30" stroke="#e9879f" stroke-width="2.2" opacity="0.75"/>
<line x1="75.42" y1="313.30" x2="88.74" y2="313.30" stroke="#a51f43" stroke-width="0.9"/>
<circle cx="82.06" cy="313.30" r="1.3" fill="#6e0b2b"/>
<line x1="51.99" y1="322.80" x2="85.97" y2="322.80" stroke="#e9879f" stroke-width="2.2" opacity="0.75"/>
<line x1="51.99" y1="322.80" x2="85.97" y2="322.80" stroke="#a51f43" stroke-width="0.9"/>
<circle cx="68.99" cy="322.80" r="1.3" fill="#6e0b2b"/>
<line x1="50.56" y1="332.30" x2="84.97" y2="332.30" stroke="#e9879f" stroke-width="2.2" opacity="0.75"/>
<line x1="50.56" y1="332.30" x2="84.97" y2="332.30" stroke="#a51f43" stroke-width="0.9"/>
<circle cx="67.60" cy="332.30" r="1.3" fill="#6e0b2b"/>
<line x1="37.20" y1="345.00" x2="133.00" y2="345.00" stroke="#222" stroke-width="1.3"/>
<line x1="39.50" y1="345.00" x2="39.50" y2="347.20" stroke="#222" stroke-width="0.9"/>
<text transform="translate(39.50 354.60) scale(0.9615 1)" x="0" y="0" font-size="5.200" text-anchor="middle" fill="#333" font-weight="normal">0.1</text>
<line x1="55.82" y1="345.00" x2="55.82" y2="347.20" stroke="#222" stroke-width="0.9"/>
<text transform="translate(55.82 354.60) scale(0.9615 1)" x="0" y="0" font-size="5.200" text-anchor="middle" fill="#333" font-weight="normal">0.2</text>
<line x1="77.38" y1="345.00" x2="77.38" y2="347.20" stroke="#222" stroke-width="0.9"/>
<text transform="translate(77.38 354.60) scale(0.9615 1)" x="0" y="0" font-size="5.200" text-anchor="middle" fill="#333" font-weight="normal">0.5</text>
<line x1="93.70" y1="345.00" x2="93.70" y2="347.20" stroke="#222" stroke-width="0.9"/>
<text transform="translate(93.70 354.60) scale(0.9615 1)" x="0" y="0" font-size="5.200" text-anchor="middle" fill="#333" font-weight="normal">1.0</text>
<line x1="110.02" y1="345.00" x2="110.02" y2="347.20" stroke="#222" stroke-width="0.9"/>
<text transform="translate(110.02 354.60) scale(0.9615 1)" x="0" y="0" font-size="5.200" text-anchor="middle" fill="#333" font-weight="normal">2.0</text>
<line x1="131.58" y1="345.00" x2="131.58" y2="347.20" stroke="#222" stroke-width="0.9"/>
<text transform="translate(131.58 354.60) scale(0.9615 1)" x="0" y="0" font-size="5.200" text-anchor="middle" fill="#333" font-weight="normal">5.0</text>
<line x1="39.00" y1="358.60" x2="73.80" y2="358.60" stroke="#222" stroke-width="0.9"/>
<path d="M36.70 358.60 L39.50 357.20 L39.50 360.00Z" fill="#222"/>
<line x1="96.90" y1="358.60" x2="131.50" y2="358.60" stroke="#222" stroke-width="0.9"/>
<path d="M133.80 358.60 L131.00 357.20 L131.00 360.00Z" fill="#222"/>
<text transform="translate(27.00 366.30) scale(0.9615 1)" x="0" y="0" font-size="5.824" text-anchor="start" fill="#333" font-weight="normal" font-style="italic" textLength="55.64" lengthAdjust="spacingAndGlyphs">Higher in low response</text>
<text transform="translate(87.40 366.30) scale(0.9615 1)" x="0" y="0" font-size="5.824" text-anchor="start" fill="#333" font-weight="normal" font-style="italic" textLength="58.66" lengthAdjust="spacingAndGlyphs">Higher in high response</text>
<text transform="translate(37.10 277.30) scale(0.9615 1)" x="0" y="0" font-size="6.032" text-anchor="end" fill="#333" font-weight="normal">rs1613662</text>
<text transform="translate(134.00 277.30) scale(1.0638 1)" x="0" y="0" font-size="5.123" text-anchor="start" fill="#333" font-weight="normal">1.89</text>
<text transform="translate(147.30 277.30) scale(1.0870 1)" x="0" y="0" font-size="5.014" text-anchor="start" fill="#333" font-weight="normal">[1.17-3.07]</text>
<text transform="translate(176.10 277.30) scale(1.0638 1)" x="0" y="0" font-size="5.123" text-anchor="start" fill="#333" font-weight="normal">.0092</text>
<text transform="translate(196.00 277.30) scale(0.9615 1)" x="0" y="0" font-size="5.824" text-anchor="start" fill="#333" font-weight="normal">GP6</text>
<text transform="translate(242.20 277.30) scale(0.9615 1)" x="0" y="0" font-size="5.824" text-anchor="start" fill="#333" font-weight="normal">G</text>
<text transform="translate(252.60 277.30) scale(0.9615 1)" x="0" y="0" font-size="5.824" text-anchor="start" fill="#333" font-weight="normal">A</text>
<text transform="translate(37.10 286.80) scale(0.9615 1)" x="0" y="0" font-size="6.032" text-anchor="end" fill="#333" font-weight="normal">rs1671152</text>
<text transform="translate(134.00 286.80) scale(1.0638 1)" x="0" y="0" font-size="5.123" text-anchor="start" fill="#333" font-weight="normal">1.88</text>
<text transform="translate(147.30 286.80) scale(1.0870 1)" x="0" y="0" font-size="5.014" text-anchor="start" fill="#333" font-weight="normal">[1.12-3.16]</text>
<text transform="translate(176.10 286.80) scale(1.0638 1)" x="0" y="0" font-size="5.123" text-anchor="start" fill="#333" font-weight="normal">.016</text>
<text transform="translate(196.00 286.80) scale(0.9615 1)" x="0" y="0" font-size="5.824" text-anchor="start" fill="#333" font-weight="normal">GP6,AC011476.3</text>
<text transform="translate(242.20 286.80) scale(0.9615 1)" x="0" y="0" font-size="5.824" text-anchor="start" fill="#333" font-weight="normal">T</text>
<text transform="translate(252.60 286.80) scale(0.9615 1)" x="0" y="0" font-size="5.824" text-anchor="start" fill="#333" font-weight="normal">G</text>
<text transform="translate(37.10 296.30) scale(0.9615 1)" x="0" y="0" font-size="6.032" text-anchor="end" fill="#333" font-weight="normal">rs350916</text>
<text transform="translate(134.00 296.30) scale(1.0638 1)" x="0" y="0" font-size="5.123" text-anchor="start" fill="#333" font-weight="normal">1.31</text>
<text transform="translate(147.30 296.30) scale(1.0870 1)" x="0" y="0" font-size="5.014" text-anchor="start" fill="#333" font-weight="normal">[1.02-1.68]</text>
<text transform="translate(176.10 296.30) scale(1.0638 1)" x="0" y="0" font-size="5.123" text-anchor="start" fill="#333" font-weight="normal">.036</text>
<text transform="translate(196.00 296.30) scale(0.9615 1)" x="0" y="0" font-size="5.824" text-anchor="start" fill="#333" font-weight="normal">MAP2K2</text>
<text transform="translate(242.20 296.30) scale(0.9615 1)" x="0" y="0" font-size="5.824" text-anchor="start" fill="#333" font-weight="normal">G</text>
<text transform="translate(252.60 296.30) scale(0.9615 1)" x="0" y="0" font-size="5.824" text-anchor="start" fill="#333" font-weight="normal">A</text>
<text transform="translate(37.10 305.80) scale(0.9615 1)" x="0" y="0" font-size="6.032" text-anchor="end" fill="#333" font-weight="normal">rs1507740</text>
<text transform="translate(134.00 305.80) scale(1.0638 1)" x="0" y="0" font-size="5.123" text-anchor="start" fill="#333" font-weight="normal">0.71</text>
<text transform="translate(147.30 305.80) scale(1.0870 1)" x="0" y="0" font-size="5.014" text-anchor="start" fill="#333" font-weight="normal">[0.51-0.99]</text>
<text transform="translate(176.10 305.80) scale(1.0638 1)" x="0" y="0" font-size="5.123" text-anchor="start" fill="#333" font-weight="normal">.041</text>
<text transform="translate(196.00 305.80) scale(0.9615 1)" x="0" y="0" font-size="5.824" text-anchor="start" fill="#333" font-weight="normal">RGS4,RGS5</text>
<text transform="translate(242.20 305.80) scale(0.9615 1)" x="0" y="0" font-size="5.824" text-anchor="start" fill="#333" font-weight="normal">C</text>
<text transform="translate(252.60 305.80) scale(0.9615 1)" x="0" y="0" font-size="5.824" text-anchor="start" fill="#333" font-weight="normal">T</text>
<text transform="translate(37.10 315.30) scale(0.9615 1)" x="0" y="0" font-size="6.032" text-anchor="end" fill="#333" font-weight="normal">rs1472122</text>
<text transform="translate(134.00 315.30) scale(1.0638 1)" x="0" y="0" font-size="5.123" text-anchor="start" fill="#333" font-weight="normal">0.61</text>
<text transform="translate(147.30 315.30) scale(1.0870 1)" x="0" y="0" font-size="5.014" text-anchor="start" fill="#333" font-weight="normal">[0.46-0.81]</text>
<text transform="translate(176.10 315.30) scale(1.0638 1)" x="0" y="0" font-size="5.123" text-anchor="start" fill="#333" font-weight="normal">.00064</text>
<text transform="translate(196.00 315.30) scale(0.9615 1)" x="0" y="0" font-size="5.824" text-anchor="start" fill="#333" font-weight="normal">P2RY12</text>
<text transform="translate(242.20 315.30) scale(0.9615 1)" x="0" y="0" font-size="5.824" text-anchor="start" fill="#333" font-weight="normal">G</text>
<text transform="translate(252.60 315.30) scale(0.9615 1)" x="0" y="0" font-size="5.824" text-anchor="start" fill="#333" font-weight="normal">A</text>
<text transform="translate(37.10 324.80) scale(0.9615 1)" x="0" y="0" font-size="6.032" text-anchor="end" fill="#333" font-weight="normal">rs12041331</text>
<text transform="translate(134.00 324.80) scale(1.0638 1)" x="0" y="0" font-size="5.123" text-anchor="start" fill="#333" font-weight="normal">0.35</text>
<text transform="translate(147.30 324.80) scale(1.0870 1)" x="0" y="0" font-size="5.014" text-anchor="start" fill="#333" font-weight="normal">[0.17-0.72]</text>
<text transform="translate(176.10 324.80) scale(1.0638 1)" x="0" y="0" font-size="5.123" text-anchor="start" fill="#333" font-weight="normal">.0046</text>
<text transform="translate(196.00 324.80) scale(0.9615 1)" x="0" y="0" font-size="5.824" text-anchor="start" fill="#333" font-weight="normal">PEAR1</text>
<text transform="translate(242.20 324.80) scale(0.9615 1)" x="0" y="0" font-size="5.824" text-anchor="start" fill="#333" font-weight="normal">G</text>
<text transform="translate(252.60 324.80) scale(0.9615 1)" x="0" y="0" font-size="5.824" text-anchor="start" fill="#333" font-weight="normal">A</text>
<text transform="translate(37.10 334.30) scale(0.9615 1)" x="0" y="0" font-size="6.032" text-anchor="end" fill="#333" font-weight="normal">rs12566888</text>
<text transform="translate(134.00 334.30) scale(1.0638 1)" x="0" y="0" font-size="5.123" text-anchor="start" fill="#333" font-weight="normal">0.33</text>
<text transform="translate(147.30 334.30) scale(1.0870 1)" x="0" y="0" font-size="5.014" text-anchor="start" fill="#333" font-weight="normal">[0.16-0.69]</text>
<text transform="translate(176.10 334.30) scale(1.0638 1)" x="0" y="0" font-size="5.123" text-anchor="start" fill="#333" font-weight="normal">.0034</text>
<text transform="translate(196.00 334.30) scale(0.9615 1)" x="0" y="0" font-size="5.824" text-anchor="start" fill="#333" font-weight="normal">PEAR1</text>
<text transform="translate(242.20 334.30) scale(0.9615 1)" x="0" y="0" font-size="5.824" text-anchor="start" fill="#333" font-weight="normal">G</text>
<text transform="translate(252.60 334.30) scale(0.9615 1)" x="0" y="0" font-size="5.824" text-anchor="start" fill="#333" font-weight="normal">T</text>
<text x="134.00" y="267.50" font-size="5.2" text-anchor="start" fill="#333" font-weight="normal">PR</text>
<text x="147.30" y="267.50" font-size="5.3" text-anchor="start" fill="#333" font-weight="normal">95% CI</text>
<text transform="translate(177.00 267.50) scale(0.9615 1)" x="0" y="0" font-size="5.512" text-anchor="start" fill="#333" font-weight="normal" font-style="italic">P</text>
<text transform="translate(196.00 267.50) scale(0.9615 1)" x="0" y="0" font-size="5.408" text-anchor="start" fill="#333" font-weight="normal">Gene name</text>
<text transform="translate(242.20 267.50) scale(0.9615 1)" x="0" y="0" font-size="5.512" text-anchor="start" fill="#333" font-weight="normal">Ref</text>
<text transform="translate(252.60 267.50) scale(0.9615 1)" x="0" y="0" font-size="5.512" text-anchor="start" fill="#333" font-weight="normal">Alt</text>
<text x="280.40" y="248.50" font-size="11" text-anchor="start" fill="#111" font-weight="bold" style="stroke:#111;stroke-width:0.45px">D</text>
<text x="367.00" y="258.00" font-size="5.4" text-anchor="middle" fill="#555" font-weight="normal">epi</text>
<rect x="313.20" y="272.43" width="91.20" height="12.85" fill="#c8c7cc"/>
<rect x="313.20" y="297.67" width="91.20" height="12.85" fill="#c8c7cc"/>
<rect x="313.20" y="322.91" width="91.20" height="12.85" fill="#c8c7cc"/>
<line x1="366.80" y1="261.00" x2="366.80" y2="345.00" stroke="#3a3a3a" stroke-width="0.95" stroke-dasharray="1 1"/>
<line x1="367.09" y1="278.85" x2="376.26" y2="278.85" stroke="#e9879f" stroke-width="2.2" opacity="0.75"/>
<line x1="367.09" y1="278.85" x2="376.26" y2="278.85" stroke="#a51f43" stroke-width="0.9"/>
<circle cx="371.76" cy="278.85" r="1.3" fill="#6e0b2b"/>
<line x1="366.86" y1="291.47" x2="373.36" y2="291.47" stroke="#e9879f" stroke-width="2.2" opacity="0.75"/>
<line x1="366.86" y1="291.47" x2="373.36" y2="291.47" stroke="#a51f43" stroke-width="0.9"/>
<circle cx="370.04" cy="291.47" r="1.3" fill="#6e0b2b"/>
<line x1="359.10" y1="304.09" x2="366.40" y2="304.09" stroke="#e9879f" stroke-width="2.2" opacity="0.75"/>
<line x1="359.10" y1="304.09" x2="366.40" y2="304.09" stroke="#a51f43" stroke-width="0.9"/>
<circle cx="362.63" cy="304.09" r="1.3" fill="#6e0b2b"/>
<line x1="356.76" y1="316.71" x2="365.69" y2="316.71" stroke="#e9879f" stroke-width="2.2" opacity="0.75"/>
<line x1="356.76" y1="316.71" x2="365.69" y2="316.71" stroke="#a51f43" stroke-width="0.9"/>
<circle cx="361.23" cy="316.71" r="1.3" fill="#6e0b2b"/>
<line x1="356.76" y1="329.33" x2="365.69" y2="329.33" stroke="#e9879f" stroke-width="2.2" opacity="0.75"/>
<line x1="356.76" y1="329.33" x2="365.69" y2="329.33" stroke="#a51f43" stroke-width="0.9"/>
<circle cx="361.23" cy="329.33" r="1.3" fill="#6e0b2b"/>
<line x1="311.00" y1="345.00" x2="406.50" y2="345.00" stroke="#222" stroke-width="1.3"/>
<line x1="313.00" y1="345.00" x2="313.00" y2="347.20" stroke="#222" stroke-width="0.9"/>
<text transform="translate(313.00 354.60) scale(0.9615 1)" x="0" y="0" font-size="5.200" text-anchor="middle" fill="#333" font-weight="normal">0.1</text>
<line x1="329.08" y1="345.00" x2="329.08" y2="347.20" stroke="#222" stroke-width="0.9"/>
<text transform="translate(329.08 354.60) scale(0.9615 1)" x="0" y="0" font-size="5.200" text-anchor="middle" fill="#333" font-weight="normal">0.2</text>
<line x1="350.32" y1="345.00" x2="350.32" y2="347.20" stroke="#222" stroke-width="0.9"/>
<text transform="translate(350.32 354.60) scale(0.9615 1)" x="0" y="0" font-size="5.200" text-anchor="middle" fill="#333" font-weight="normal">0.5</text>
<line x1="366.40" y1="345.00" x2="366.40" y2="347.20" stroke="#222" stroke-width="0.9"/>
<text transform="translate(366.40 354.60) scale(0.9615 1)" x="0" y="0" font-size="5.200" text-anchor="middle" fill="#333" font-weight="normal">1.0</text>
<line x1="382.48" y1="345.00" x2="382.48" y2="347.20" stroke="#222" stroke-width="0.9"/>
<text transform="translate(382.48 354.60) scale(0.9615 1)" x="0" y="0" font-size="5.200" text-anchor="middle" fill="#333" font-weight="normal">2.0</text>
<line x1="403.72" y1="345.00" x2="403.72" y2="347.20" stroke="#222" stroke-width="0.9"/>
<text transform="translate(403.72 354.60) scale(0.9615 1)" x="0" y="0" font-size="5.200" text-anchor="middle" fill="#333" font-weight="normal">5.0</text>
<line x1="312.40" y1="358.80" x2="347.30" y2="358.80" stroke="#222" stroke-width="0.9"/>
<path d="M310.10 358.80 L312.90 357.40 L312.90 360.20Z" fill="#222"/>
<line x1="370.40" y1="358.80" x2="405.00" y2="358.80" stroke="#222" stroke-width="0.9"/>
<path d="M407.30 358.80 L404.50 357.40 L404.50 360.20Z" fill="#222"/>
<text transform="translate(301.40 366.30) scale(0.9615 1)" x="0" y="0" font-size="5.824" text-anchor="start" fill="#333" font-weight="normal" font-style="italic" textLength="56.16" lengthAdjust="spacingAndGlyphs">Higher in low response</text>
<text transform="translate(360.80 366.30) scale(0.9615 1)" x="0" y="0" font-size="5.824" text-anchor="start" fill="#333" font-weight="normal" font-style="italic" textLength="58.76" lengthAdjust="spacingAndGlyphs">Higher in high response</text>
<text transform="translate(310.80 280.85) scale(0.9615 1)" x="0" y="0" font-size="6.032" text-anchor="end" fill="#333" font-weight="normal">rs11575845</text>
<text transform="translate(406.90 280.85) scale(1.0638 1)" x="0" y="0" font-size="5.076" text-anchor="start" fill="#333" font-weight="normal">1.26</text>
<text transform="translate(421.10 280.85) scale(1.0870 1)" x="0" y="0" font-size="4.968" text-anchor="start" fill="#333" font-weight="normal">[1.03-1.53]</text>
<text transform="translate(450.30 280.85) scale(1.0638 1)" x="0" y="0" font-size="5.076" text-anchor="start" fill="#333" font-weight="normal">.023</text>
<text transform="translate(466.30 280.85) scale(0.9615 1)" x="0" y="0" font-size="5.720" text-anchor="start" fill="#333" font-weight="normal">MPIG6B</text>
<text transform="translate(496.50 280.85) scale(0.9615 1)" x="0" y="0" font-size="5.720" text-anchor="start" fill="#333" font-weight="normal">C</text>
<text transform="translate(507.40 280.85) scale(0.9615 1)" x="0" y="0" font-size="5.720" text-anchor="start" fill="#333" font-weight="normal">G</text>
<text transform="translate(310.80 293.47) scale(0.9615 1)" x="0" y="0" font-size="6.032" text-anchor="end" fill="#333" font-weight="normal">rs3737224</text>
<text transform="translate(406.90 293.47) scale(1.0638 1)" x="0" y="0" font-size="5.076" text-anchor="start" fill="#333" font-weight="normal">1.17</text>
<text transform="translate(421.10 293.47) scale(1.0870 1)" x="0" y="0" font-size="4.968" text-anchor="start" fill="#333" font-weight="normal">[1.02-1.35]</text>
<text transform="translate(450.30 293.47) scale(1.0638 1)" x="0" y="0" font-size="5.076" text-anchor="start" fill="#333" font-weight="normal">.027</text>
<text transform="translate(466.30 293.47) scale(0.9615 1)" x="0" y="0" font-size="5.720" text-anchor="start" fill="#333" font-weight="normal">PEAR1</text>
<text transform="translate(496.50 293.47) scale(0.9615 1)" x="0" y="0" font-size="5.720" text-anchor="start" fill="#333" font-weight="normal">C</text>
<text transform="translate(507.40 293.47) scale(0.9615 1)" x="0" y="0" font-size="5.720" text-anchor="start" fill="#333" font-weight="normal">T</text>
<text transform="translate(310.80 306.09) scale(0.9615 1)" x="0" y="0" font-size="6.032" text-anchor="end" fill="#333" font-weight="normal">rs565229</text>
<text transform="translate(406.90 306.09) scale(1.0638 1)" x="0" y="0" font-size="5.076" text-anchor="start" fill="#333" font-weight="normal">0.85</text>
<text transform="translate(421.10 306.09) scale(1.0870 1)" x="0" y="0" font-size="4.968" text-anchor="start" fill="#333" font-weight="normal">[0.73-1.00]</text>
<text transform="translate(450.30 306.09) scale(1.0638 1)" x="0" y="0" font-size="5.076" text-anchor="start" fill="#333" font-weight="normal">.049</text>
<text transform="translate(466.30 306.09) scale(0.9615 1)" x="0" y="0" font-size="5.720" text-anchor="start" fill="#333" font-weight="normal">MIR100HG</text>
<text transform="translate(496.50 306.09) scale(0.9615 1)" x="0" y="0" font-size="5.720" text-anchor="start" fill="#333" font-weight="normal">G</text>
<text transform="translate(507.40 306.09) scale(0.9615 1)" x="0" y="0" font-size="5.720" text-anchor="start" fill="#333" font-weight="normal">A</text>
<text transform="translate(310.80 318.71) scale(0.9615 1)" x="0" y="0" font-size="6.032" text-anchor="end" fill="#333" font-weight="normal">rs12041331</text>
<text transform="translate(406.90 318.71) scale(1.0638 1)" x="0" y="0" font-size="5.076" text-anchor="start" fill="#333" font-weight="normal">0.80</text>
<text transform="translate(421.10 318.71) scale(1.0870 1)" x="0" y="0" font-size="4.968" text-anchor="start" fill="#333" font-weight="normal">[0.66-0.97]</text>
<text transform="translate(450.30 318.71) scale(1.0638 1)" x="0" y="0" font-size="5.076" text-anchor="start" fill="#333" font-weight="normal">.021</text>
<text transform="translate(466.30 318.71) scale(0.9615 1)" x="0" y="0" font-size="5.720" text-anchor="start" fill="#333" font-weight="normal">PEAR1</text>
<text transform="translate(496.50 318.71) scale(0.9615 1)" x="0" y="0" font-size="5.720" text-anchor="start" fill="#333" font-weight="normal">G</text>
<text transform="translate(507.40 318.71) scale(0.9615 1)" x="0" y="0" font-size="5.720" text-anchor="start" fill="#333" font-weight="normal">A</text>
<text transform="translate(310.80 331.33) scale(0.9615 1)" x="0" y="0" font-size="6.032" text-anchor="end" fill="#333" font-weight="normal">rs12566888</text>
<text transform="translate(406.90 331.33) scale(1.0638 1)" x="0" y="0" font-size="5.076" text-anchor="start" fill="#333" font-weight="normal">0.80</text>
<text transform="translate(421.10 331.33) scale(1.0870 1)" x="0" y="0" font-size="4.968" text-anchor="start" fill="#333" font-weight="normal">[0.66-0.97]</text>
<text transform="translate(450.30 331.33) scale(1.0638 1)" x="0" y="0" font-size="5.076" text-anchor="start" fill="#333" font-weight="normal">.022</text>
<text transform="translate(466.30 331.33) scale(0.9615 1)" x="0" y="0" font-size="5.720" text-anchor="start" fill="#333" font-weight="normal">PEAR1</text>
<text transform="translate(496.50 331.33) scale(0.9615 1)" x="0" y="0" font-size="5.720" text-anchor="start" fill="#333" font-weight="normal">G</text>
<text transform="translate(507.40 331.33) scale(0.9615 1)" x="0" y="0" font-size="5.720" text-anchor="start" fill="#333" font-weight="normal">T</text>
<text x="406.90" y="267.30" font-size="5.2" text-anchor="start" fill="#333" font-weight="normal">PR</text>
<text x="421.10" y="267.30" font-size="5.3" text-anchor="start" fill="#333" font-weight="normal">95% CI</text>
<text transform="translate(450.30 267.30) scale(0.9615 1)" x="0" y="0" font-size="5.512" text-anchor="start" fill="#333" font-weight="normal" font-style="italic">P</text>
<text transform="translate(466.30 267.30) scale(0.9615 1)" x="0" y="0" font-size="5.408" text-anchor="start" fill="#333" font-weight="normal">Gene name</text>
<text transform="translate(496.50 267.30) scale(0.9615 1)" x="0" y="0" font-size="5.512" text-anchor="start" fill="#333" font-weight="normal">Ref</text>
<text transform="translate(507.40 267.30) scale(0.9615 1)" x="0" y="0" font-size="5.512" text-anchor="start" fill="#333" font-weight="normal">Alt</text>
</svg>
<svg class="fr" width="520" height="374" viewBox="0 0 520 374" style="filter:none;will-change:auto">
<rect x="0" y="0" width="1.2" height="374" fill="#555"/>
<rect x="0" y="0" width="520" height="1.15" fill="#5a5a5a"/>
<rect x="518.65" y="0" width="1.35" height="374" fill="#555"/>
<rect x="0" y="372.5" width="520" height="1.5" fill="#555"/>
</svg>
</body></html>
